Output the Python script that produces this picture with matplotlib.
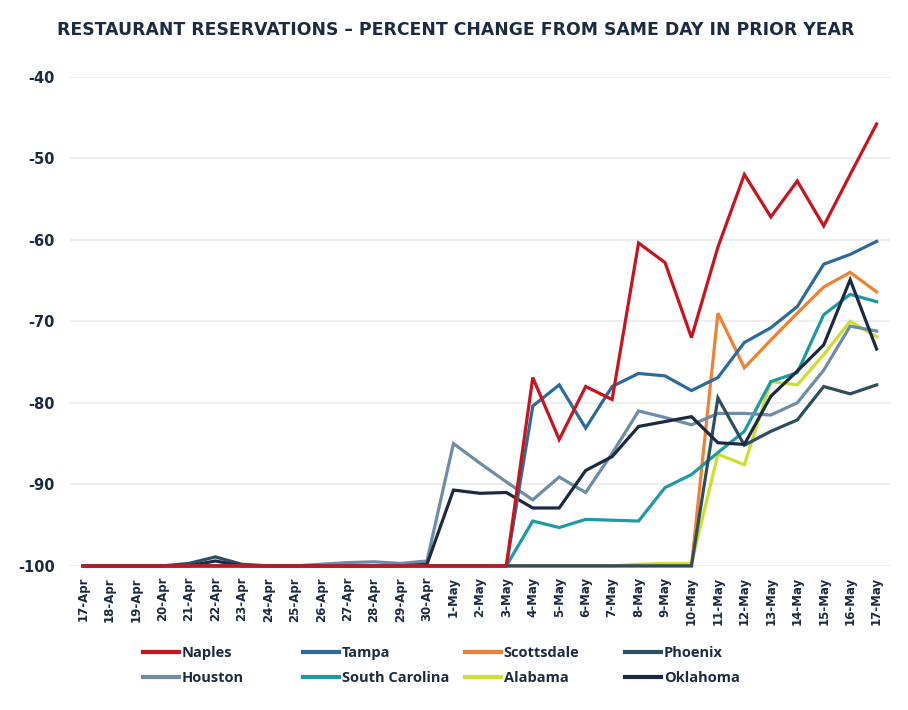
import matplotlib.pyplot as plt
from matplotlib.lines import Line2D

plt.rcParams['font.family'] = ['Open Sans', 'DejaVu Sans']

# dates 17-Apr .. 17-May
dates = [f"{d}-Apr" for d in range(17, 31)] + [f"{d}-May" for d in range(1, 18)]

naples = [-100] * 17 + [-76.9, -84.5, -78.0, -79.6, -60.4, -62.8, -72.0,
                        -60.9, -52.0, -57.2, -52.8, -58.3, -52.0, -45.8]
tampa = [-100] * 17 + [-80.4, -77.8, -83.1, -78.0, -76.4, -76.7, -78.5,
                       -76.9, -72.6, -70.8, -68.2, -63.0, -61.8, -60.2]
scottsdale = [-100] * 24 + [-69.0, -75.7, -72.3, -69.0, -65.8, -64.0, -66.4]
phoenix = ([-100] * 4 + [-99.7, -98.9, -99.8] + [-100] * 17 +
           [-79.4, -85.2, -83.5, -82.1, -78.0, -78.9, -77.8])
houston = ([-100] * 9 + [-99.8, -99.6, -99.5, -99.7, -99.4] +
           [-85.0, -87.4, -89.7, -91.9, -89.1, -91.0, -86.2, -81.0, -81.8, -82.7,
            -81.3, -81.3, -81.5, -80.0, -76.0, -70.6, -71.2])
south_carolina = [-100] * 17 + [-94.5, -95.3, -94.3, -94.4, -94.5, -90.4, -88.8,
                                -86.1, -83.5, -77.4, -76.3, -69.2, -66.7, -67.6]
alabama = ([-100] * 21 + [-99.8, -99.7, -99.7] +
           [-86.3, -87.6, -77.4, -77.8, -74.1, -70.0, -71.9])
oklahoma = ([-100] * 5 + [-99.4] + [-100] * 7 + [-99.8] +
            [-90.7, -91.1, -91.0, -92.9, -92.9, -88.3, -86.6, -82.9, -82.3, -81.7,
             -84.9, -85.1, -79.2, -76.1, -72.9, -64.9, -73.4])

names = ["Naples", "Tampa", "Scottsdale", "Phoenix",
         "Houston", "South Carolina", "Alabama", "Oklahoma"]
series = [naples, tampa, scottsdale, phoenix, houston, south_carolina, alabama, oklahoma]
colors = ["#c8141e", "#2d6a9c", "#ee8232", "#2c4f60",
          "#6d8ca8", "#1c9ba6", "#cbdf2c", "#1b2a44"]

navy = "#1c2a44"

fig = plt.figure(figsize=(9.08, 7.10), dpi=100)
ax = fig.add_axes([0.077, 0.203, 0.903, 0.689])

x = list(range(len(dates)))
# draw order: back to front
order = [6, 2, 5, 4, 3, 7, 1, 0]
for i in order:
    ax.plot(x, series[i], color=colors[i], lw=2.3, clip_on=False, zorder=3 + order.index(i),
            solid_joinstyle='miter')

ax.set_xlim(-0.5, 30.5)
ax.set_ylim(-100, -40)
ax.set_yticks(range(-100, -39, 10))
ax.grid(axis='y', color='#ebebeb', lw=1.2)
ax.set_axisbelow(True)
for s in ax.spines.values():
    s.set_visible(False)
ax.tick_params(length=0)
ax.tick_params(axis='y', pad=11, labelcolor=navy)
ax.set_yticklabels([str(v) for v in range(-100, -39, 10)], fontweight='bold',
                   fontsize=10.5, family='DejaVu Sans')
ax.set_xticks(x)
ax.set_xticklabels(dates, rotation=90, fontsize=8.5, fontweight='bold', color=navy,
                   family='DejaVu Sans')
ax.tick_params(axis='x', pad=8)

fig.text(0.502, 0.958, "RESTAURANT RESERVATIONS – PERCENT CHANGE FROM SAME DAY IN PRIOR YEAR",
         ha='center', va='center', fontsize=12.4, fontweight='bold', color=navy,
         family='DejaVu Sans')

# legend in 4 columns of 2 entries
col_x = [143, 303, 465, 625]
for c in range(4):
    hs = [Line2D([], [], color=colors[c], lw=3), Line2D([], [], color=colors[c + 4], lw=3)]
    leg = fig.legend(hs, [names[c], names[c + 4]], loc='upper left',
                     bbox_to_anchor=(col_x[c] / 908, 1 - 646 / 710),
                     frameon=False, borderpad=0, borderaxespad=0, handlelength=2.5,
                     handletextpad=0.15, labelspacing=0.75,
                     prop={'weight': 'bold', 'size': 10.5})
    for t in leg.get_texts():
        t.set_color(navy)

fig.savefig("out.png", dpi=100)
